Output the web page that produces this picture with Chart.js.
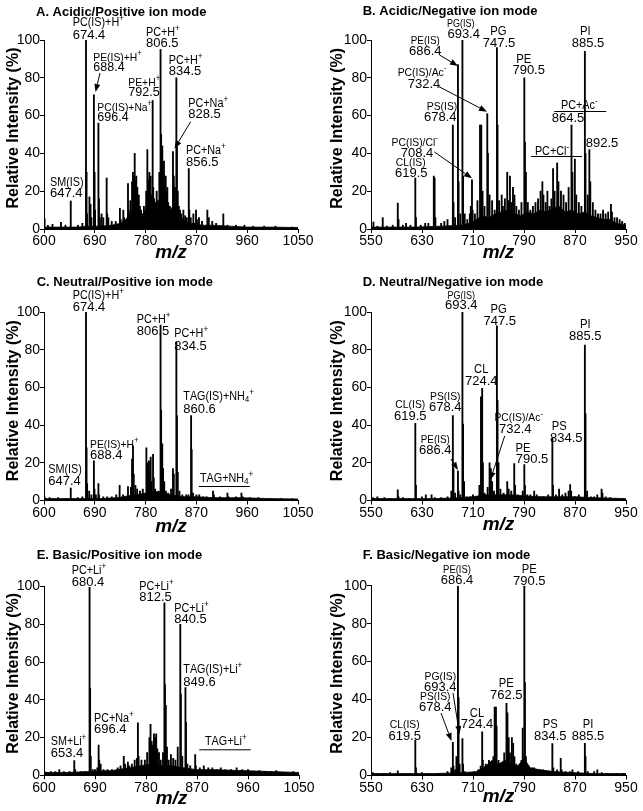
<!DOCTYPE html>
<html>
<head>
<meta charset="utf-8">
<script src="https://cdn.jsdelivr.net/npm/chart.js@4.4.1/dist/chart.umd.min.js"></script>
<style>
  body { margin: 0; background: #fff; }
  #fig { position: relative; width: 643px; height: 811px; }
  .panel { position: absolute; }
  canvas { display: block; }
</style>
</head>
<body>
<div id="fig">
  <div class="panel" style="left:0;top:0"><canvas id="cA" width="322" height="270"></canvas></div>
  <div class="panel" style="left:322px;top:0"><canvas id="cB" width="321" height="270"></canvas></div>
  <div class="panel" style="left:0;top:270px"><canvas id="cC" width="322" height="270"></canvas></div>
  <div class="panel" style="left:322px;top:270px"><canvas id="cD" width="321" height="270"></canvas></div>
  <div class="panel" style="left:0;top:540px"><canvas id="cE" width="322" height="271"></canvas></div>
  <div class="panel" style="left:322px;top:540px"><canvas id="cF" width="321" height="271"></canvas></div>
</div>
<script>
const FAM = '"Liberation Sans", Arial, Helvetica, sans-serif';

// axis ticks
const xTicksPos = [600, 690, 780, 870, 960, 1050];
const xTicksNeg = [550, 630, 710, 790, 870, 950];
const yTicks = [0, 20, 40, 60, 80, 100];

// A. acidic / positive
const mzA = [601, 607, 615, 630, 638, 647.4, 660, 668, 674.4, 675.4, 676.4, 680.5, 682.5, 684, 688.4, 689.6, 690.5, 696.4, 697.4, 699, 702, 705, 711, 712, 714, 720, 727, 734.5, 736, 740.5, 742, 748.8, 750, 753, 756, 757.5, 759, 760.7, 762, 763.5, 765.4, 768, 770, 772, 775, 777, 781, 783.1, 785, 786.6, 789, 790.5, 792.5, 793.5, 795, 797, 799.6, 802, 804.3, 806.5, 807.5, 809.6, 811, 812.6, 814, 815.6, 817, 818.5, 820, 823, 826, 828.5, 830, 832, 834.5, 835.5, 837, 839, 841, 843, 846.9, 850, 853, 856.5, 857.5, 860, 864.6, 869.3, 871, 874.6, 880, 889.4, 892, 898, 905, 917.7, 925, 940, 955, 970, 990, 1010, 1040];
const intA = [5.5, 2, 2.5, 3.5, 2, 14.8, 2, 3, 100, 30, 8, 17, 13, 6, 71, 30, 10, 56, 16, 6, 8, 6, 27, 8, 6, 4, 4, 11, 5, 10, 6, 24, 10, 15, 25, 30, 28, 40, 26, 28, 22, 18, 12, 10, 8, 12, 20, 42, 26, 30, 28, 18, 68, 22, 16, 14, 20, 15, 30, 95, 50, 44, 30, 36, 25, 28, 20, 22, 14, 12, 10, 41, 28, 22, 80, 44, 20, 12, 10, 8, 10, 7, 6, 32, 10, 6, 8, 10, 5, 6, 4, 10, 6, 4, 3, 8, 2, 2, 2, 1.5, 1.5, 1.5, 1];
const noiseMzA = [600, 620, 640, 660, 680, 700, 720, 735, 745, 752, 760, 766, 772, 778, 784, 790, 796, 802, 808, 814, 820, 826, 832, 838, 844, 850, 858, 866, 880, 900, 930, 960, 1000, 1050];
const noiseIntA = [1, 1, 1, 1, 1.5, 1.5, 2, 3, 5, 8, 12, 10, 7, 9, 14, 12, 9, 11, 20, 14, 9, 11, 14, 9, 6, 4, 3, 3, 2, 2, 1.5, 1, 1, 0.8];

// B. acidic / negative
const mzB = [553.8, 560, 568.4, 575, 584, 592, 593.2, 600, 605, 612, 619.5, 620.5, 628, 635, 640, 648.5, 649.8, 651, 660, 665, 670, 678.4, 679.4, 682, 686.4, 687.4, 690, 693.4, 694.4, 697, 701, 705, 706.5, 708.4, 709.4, 713, 717, 721, 723, 725, 728, 732.4, 733.4, 736, 740, 744, 747.5, 748.5, 751, 755, 757, 760, 763.7, 765, 768, 770, 772.7, 775, 778, 782, 786, 790.5, 791.5, 793, 796, 800, 804, 808, 812, 816, 818.8, 820.5, 824, 826.7, 830, 833, 835.6, 838, 842, 844, 848, 852, 856, 860, 864.5, 866, 869.8, 872, 876, 880, 885.5, 886.5, 890, 892.5, 894, 898, 902, 906, 910, 914, 918, 922, 926.4, 928, 932, 936, 940, 944, 948];
const intB = [3.7, 1.5, 6, 1.5, 2, 13.7, 5, 2, 3, 2, 27, 6, 2, 3, 3, 28, 27, 6, 3, 4, 5, 55, 14, 6, 87, 25, 8, 100, 28, 8, 5, 8, 12, 26, 10, 8, 15, 55, 55, 20, 12, 61, 40, 18, 15, 10, 96, 55, 15, 18, 12, 16, 30, 15, 28, 14, 22, 18, 12, 10, 14, 80, 46, 30, 14, 10, 12, 14, 16, 20, 25, 18, 14, 20, 12, 16, 32, 20, 35, 25, 20, 18, 14, 22, 55, 30, 37, 18, 14, 12, 94, 40, 18, 42, 25, 14, 10, 8, 8, 10, 8, 9, 13, 9, 6, 6, 5, 4, 3];
const noiseMzB = [550, 580, 620, 660, 690, 705, 715, 725, 735, 745, 755, 765, 775, 785, 795, 805, 815, 825, 835, 845, 855, 865, 875, 885, 895, 905, 915, 925, 935, 950];
const noiseIntB = [1, 1, 1, 1.5, 2, 3, 5, 7, 6, 8, 9, 10, 8, 7, 9, 8, 10, 9, 11, 12, 9, 10, 8, 9, 7, 6, 5, 5, 3, 2];

// C. neutral / positive
const mzC = [601, 610, 625, 640, 647.4, 660, 668, 674.4, 675.4, 676.4, 680, 684, 688.4, 689.4, 692, 696.4, 697.4, 705, 712, 720, 728, 734, 740, 748.8, 754, 756, 757.7, 759, 762, 765, 770, 775, 781.4, 782.5, 784, 786, 787.5, 789, 790, 793.2, 794.5, 797, 800, 803, 806.5, 807.5, 809.5, 811, 813, 816, 820, 825, 828.5, 830, 834.5, 835.5, 837, 840, 845, 852, 856, 860.6, 861.6, 864, 870, 875, 882, 888, 899.4, 901, 912, 925, 927, 940, 949.8, 952, 965, 980, 1000, 1020, 1040];
const intC = [2, 1.5, 1.5, 1, 6.6, 1.5, 2, 100, 28, 9, 5, 3, 21, 6, 3, 9, 3, 2, 2, 2, 3, 8, 3, 7.4, 7, 22, 29, 14, 8, 6, 5, 6, 28, 15, 20, 21, 14, 23, 10, 24.5, 12, 6, 4, 5, 93, 48, 30, 17, 10, 5, 4, 6, 17, 14, 84, 45, 15, 5, 3, 3, 3, 45, 27, 4, 3, 3, 2, 2, 5, 3, 2, 4, 2, 2, 4, 2, 1.5, 1.5, 1, 1, 1];
const noiseMzC = [600, 650, 700, 730, 750, 765, 780, 795, 810, 825, 845, 870, 900, 950, 1000, 1050];
const noiseIntC = [1, 1, 1, 1.5, 2.5, 3, 4, 5, 4, 3, 2, 2, 1.5, 1.5, 1, 0.8];

// D. neutral / negative
const mzD = [553, 560, 571, 580, 592, 593.2, 600, 610, 619.5, 620.5, 630, 636, 645, 650, 660, 670, 676, 678.4, 679.4, 682, 686.4, 687.4, 690, 693.4, 694.4, 696, 700, 706, 710, 715, 720, 722.5, 724.4, 725.5, 728, 733, 736, 738, 740, 743, 747.5, 748.5, 750, 753, 758, 763.7, 766, 770, 774.7, 776, 780, 785, 788, 790.5, 791.5, 795, 800, 806, 810, 815, 820, 828, 834.5, 835.5, 840, 845, 850, 855, 860, 862.4, 864, 870, 876, 885.5, 886.5, 889, 895, 900, 905, 911.7, 913, 918, 925, 935, 945];
const intD = [1.5, 2, 1.5, 1, 5.7, 2, 1.5, 1, 41, 8, 2, 3, 3, 1.5, 1.5, 2, 5, 45, 17, 4, 15.6, 5, 3, 100, 40.5, 10, 2, 2, 3, 2, 8, 55, 59.5, 20, 4, 7, 20, 17, 10, 5, 92.7, 53, 20, 6, 4, 10, 6, 5, 19.6, 8, 3, 2, 5, 19, 8, 3, 3, 5, 3, 2, 2, 3, 33, 8, 3, 6, 3, 4, 5, 8.5, 5, 2, 3, 82.5, 46, 5, 2, 2, 3, 6, 4, 2, 1.5, 1, 1];
const noiseMzD = [550, 600, 650, 690, 710, 730, 750, 770, 790, 810, 830, 850, 870, 900, 950];
const noiseIntD = [1, 1, 1, 1.5, 2, 3, 3, 3, 2.5, 2, 2, 2, 2, 1.5, 1];

// E. basic / positive
const mzE = [601, 605, 612, 620, 627, 635, 645, 653.4, 655, 665, 672, 680.4, 681.4, 682.5, 686, 690, 694, 696.4, 697.4, 700, 705, 712, 720, 730, 735, 740.8, 743, 748, 750, 755, 760, 764, 765.7, 767, 772, 778, 782, 786, 788, 790, 792, 794, 796, 798, 800, 803, 806, 810, 812.5, 813.5, 815, 817, 820, 824, 828, 832, 836, 840.5, 841.5, 844, 849.6, 850.6, 853, 858, 866.8, 868, 875, 882, 890, 897, 905, 912, 920, 930, 940, 950, 960, 970, 980, 990, 1000, 1010, 1020, 1030, 1040];
const intE = [2, 1.5, 2, 2, 3, 2, 2, 7.8, 3, 2, 2, 99.5, 46, 10, 3, 3, 4, 16, 8, 6, 3, 3, 3, 4, 5, 10, 6, 7, 5, 6, 8, 9, 27.8, 10, 8, 8, 12, 20, 27, 18, 16, 22, 20, 22, 14, 12, 8, 12, 91.4, 48, 37, 15, 8, 11, 9, 8, 15, 80, 43, 10, 46.5, 28, 6, 5, 11, 5, 4, 5, 4, 4, 3, 4, 3, 3, 4, 3, 3, 2, 2.5, 2, 2, 2.5, 1.5, 1.5, 2];
const noiseMzE = [600, 640, 680, 720, 750, 770, 790, 805, 825, 845, 870, 900, 950, 1000, 1050];
const noiseIntE = [1.5, 1.5, 2, 2.5, 4, 5, 6, 5, 5, 4, 3, 3, 2.5, 2, 1.5];

// F. basic / negative
const mzF = [553, 560, 570, 580, 592, 600, 610, 619.5, 620.5, 630, 640, 660, 670, 676, 678.4, 679.4, 682, 684, 686.4, 687.4, 689, 693.4, 694.4, 697, 705, 712, 718, 722, 724.4, 725.4, 730, 735, 738, 742, 744, 746, 747, 750, 755, 759, 762.5, 764, 766, 768, 771, 773, 775, 778, 782, 786, 788, 790.5, 791.5, 793, 797, 803, 806, 810, 815, 820, 825, 834.5, 836, 842, 847.6, 849, 855, 862, 866, 875, 885.5, 886.5, 890, 900, 905, 912, 920, 935, 945];
const intF = [1.5, 1, 1, 1.5, 2.5, 1, 1, 18.5, 4, 1.5, 1, 1, 2, 4, 17.5, 5, 3, 10, 99.7, 41, 6, 19.5, 6, 2, 1.5, 2, 3, 5, 23, 8, 6, 8, 5, 10, 36, 36, 26, 8, 6, 12, 38, 33, 20, 12, 20, 17, 10, 6, 4, 8, 25, 100, 49, 10, 4, 4, 4, 3, 3, 3, 2, 16.8, 4, 3, 9, 3, 2, 2, 3, 2, 17, 10, 2, 2, 3, 1.5, 1, 1, 1];
const noiseMzF = [550, 600, 650, 690, 715, 730, 740, 750, 760, 770, 780, 790, 800, 815, 840, 870, 900, 950];
const noiseIntF = [1, 1, 1, 1.5, 2, 5, 8, 6, 8, 6, 5, 9, 4, 3, 2, 1.5, 1, 1];

// annotation text: [text, x, y, size]  (^ = superscript, _ = subscript)
const labelsA = [
  ['PC(IS)+H^+', 72.7, 22.8, 12], ['674.4', 72.7, 35, 13],
  ['PE(IS)+H^+', 93.3, 58, 11.5], ['688.4', 93.3, 68, 12.5],
  ['PC(IS)+Na^+', 97.3, 107.7, 11.5], ['696.4', 97.3, 118, 12.5],
  ['PE+H^+', 128.3, 82.7, 11.5], ['792.5', 128.3, 92.5, 12.5],
  ['PC+H^+', 146, 32.3, 12], ['806.5', 146, 43, 13],
  ['PC+H^+', 168.7, 60.7, 12], ['834.5', 168.7, 71.5, 13],
  ['PC+Na^+', 188.3, 103.3, 12], ['828.5', 188.3, 114.5, 13],
  ['PC+Na^+', 186, 150.7, 12], ['856.5', 186, 162, 13],
  ['SM(IS)', 50, 182.7, 12], ['647.4', 50, 193.5, 13]
];
const labelsB = [
  ['PE(IS)', 103.3, 40.7, 11], ['686.4', 103.3, 51, 13],
  ['PG(IS)', 138.7, 24, 10], ['693.4', 141.7, 34.5, 13],
  ['PG', 176.3, 31.7, 12.5], ['747.5', 177, 43, 13],
  ['PE', 201.7, 60, 12.5], ['790.5', 206.7, 70.5, 13],
  ['PI', 263.3, 31.7, 12.5], ['885.5', 266, 43, 13],
  ['PC(IS)/Ac^-', 100, 72.7, 11.5], ['732.4', 102, 84, 13],
  ['PS(IS)', 120, 107.3, 11.5], ['678.4', 118.3, 117.5, 13],
  ['PC(IS)/Cl^-', 92.7, 142.7, 11.5], ['708.4', 95, 153, 13],
  ['CL(IS)', 88.7, 162.7, 11.5], ['619.5', 89.3, 173, 13],
  ['PC+Cl^-', 230, 151.5, 12], ['PC+Ac^-', 257.3, 106, 12],
  ['864.5', 246, 118.5, 13], ['892.5', 280, 143.5, 13]
];
const labelsC = [
  ['PC(IS)+H^+', 72.7, 26, 12], ['674.4', 72.7, 37, 13],
  ['PC+H^+', 136.7, 49.3, 12], ['806.5', 136.7, 61, 13],
  ['PC+H^+', 174.3, 64, 12], ['834.5', 174.3, 76, 13],
  ['TAG(IS)+NH_4^+', 183.3, 126.7, 12], ['860.6', 183.3, 139.5, 13],
  ['PE(IS)+H^+', 90, 175, 11.5], ['688.4', 90, 185.5, 13],
  ['SM(IS)', 48.3, 200, 12], ['647.4', 48.3, 211, 13],
  ['TAG+NH_4^+', 200, 208.5, 12]
];
const labelsD = [
  ['PG(IS)', 139.3, 26, 10], ['693.4', 139.3, 35.5, 13],
  ['PG', 176.7, 40, 12.5], ['747.5', 177.7, 51, 13],
  ['PI', 263.3, 54.3, 12.5], ['885.5', 263.3, 66, 13],
  ['CL', 159.3, 100, 12.5], ['724.4', 159.3, 111, 13],
  ['CL(IS)', 88.3, 135, 11.5], ['619.5', 88.3, 146, 13],
  ['PS(IS)', 123.3, 127.3, 11.5], ['678.4', 123.3, 137.5, 13],
  ['PE(IS)', 113.3, 170, 11], ['686.4', 113.3, 180.5, 13],
  ['PC(IS)/Ac^-', 196.7, 148.3, 11.5], ['732.4', 193.3, 159.5, 13],
  ['PE', 201, 178.3, 12.5], ['790.5', 210, 189.5, 13],
  ['PS', 237.3, 156.7, 12.5], ['834.5', 244.3, 168.5, 13]
];
const labelsE = [
  ['PC+Li^+', 71.7, 30.7, 12], ['680.4', 71.7, 42, 13],
  ['PC+Li^+', 139.3, 46.7, 12], ['812.5', 139.3, 57.5, 13],
  ['PC+Li^+', 174.3, 68.3, 12], ['840.5', 174.3, 79.5, 13],
  ['TAG(IS)+Li^+', 183.3, 130, 12], ['849.6', 183.3, 142, 13],
  ['PC+Na^+', 94, 178.3, 12], ['696.4', 94, 189.5, 13],
  ['SM+Li^+', 50.7, 201.7, 12], ['653.4', 50.7, 213.5, 13],
  ['TAG+Li^+', 205, 201.3, 12]
];
const labelsF = [
  ['PE(IS)', 135, 30, 10.5], ['686.4', 135, 40.5, 13],
  ['PE', 207.3, 30, 12.5], ['790.5', 207.3, 41, 13],
  ['PG(IS)', 118.3, 136.7, 11.5], ['693.4', 118.3, 147, 13],
  ['PS(IS)', 113.3, 156.7, 11.5], ['678.4', 113.3, 167, 13],
  ['CL', 155, 173.3, 12.5], ['724.4', 155, 184.5, 13],
  ['PE', 184.3, 144, 12.5], ['762.5', 184.3, 155.5, 13],
  ['CL(IS)', 82.7, 185, 11.5], ['619.5', 82.7, 196, 13],
  ['PS', 228.3, 185, 12.5], ['834.5', 228.3, 196, 13],
  ['PI', 266, 185, 12.5], ['885.5', 266, 196, 13]
];

// arrows [x1, y1, x2(tip), y2(tip)] and underline bars [x1, y, x2]
const panels = [
  { id: 'cA', title: 'A. Acidic/Positive ion mode', tx: 36, ty: 12, mz: mzA, inten: intA, nMz: noiseMzA, nInt: noiseIntA,
    ticks: xTicksPos, area: [44, 40, 298, 229], yt: [13.5, 128], xt: 253, align: 'left', labels: labelsA,
    arrows: [[100, 73, 95.5, 92], [190.7, 121.7, 174.5, 148.5]], bars: [] },
  { id: 'cB', title: 'B. Acidic/Negative ion mode', tx: 40.7, ty: 11.7, mz: mzB, inten: intB, nMz: noiseMzB, nInt: noiseIntB,
    ticks: xTicksNeg, area: [49, 40, 304, 229], yt: [15.5, 128.3], xt: 253, align: 'center', labels: labelsB,
    arrows: [[117.5, 55, 136, 66], [117, 86.7, 165, 111.7], [112.5, 152, 150, 178.3]],
    bars: [[209, 156, 260], [232.3, 111, 284.3]] },
  { id: 'cC', title: 'C. Neutral/Positive ion mode', tx: 36.7, ty: 12.7, mz: mzC, inten: intC, nMz: noiseMzC, nInt: noiseIntC,
    ticks: xTicksPos, area: [44, 42, 298, 230.5], yt: [13.5, 130.7], xt: 256.5, align: 'left', labels: labelsC,
    arrows: [], bars: [[198.7, 216, 250]] },
  { id: 'cD', title: 'D. Neutral/Negative ion mode', tx: 40.7, ty: 12.7, mz: mzD, inten: intD, nMz: noiseMzD, nInt: noiseIntD,
    ticks: xTicksNeg, area: [49, 42, 304, 230.5], yt: [15.5, 130.7], xt: 255, align: 'center', labels: labelsD,
    arrows: [[129, 189, 136, 200], [182.7, 166, 168.3, 210]], bars: [] },
  { id: 'cE', title: 'E. Basic/Positive ion mode', tx: 36.7, ty: 15, mz: mzE, inten: intE, nMz: noiseMzE, nInt: noiseIntE,
    ticks: xTicksPos, area: [44, 46.5, 299, 235.3], yt: [13.5, 133.3], xt: 259, align: 'left', labels: labelsE,
    arrows: [], bars: [[199.3, 209.3, 250.7]] },
  { id: 'cF', title: 'F. Basic/Negative ion mode', tx: 40.7, ty: 15, mz: mzF, inten: intF, nMz: noiseMzF, nInt: noiseIntF,
    ticks: xTicksNeg, area: [49, 45.7, 304, 235.5], yt: [15.5, 133.3], xt: 257, align: 'center', labels: labelsF,
    arrows: [[119, 173, 129.5, 201], [131, 153, 137.5, 194]], bars: [] }
];

function drawRich(ctx, str, x, y, size, align) {
  const segs = [];
  for (let i = 0; i < str.length; i++) {
    const c = str[i];
    if ((c === '^' || c === '_') && i + 1 < str.length) { segs.push([str[i + 1], c]); i++; }
    else segs.push([c, '']);
  }
  const sx = /[A-Za-z]/.test(str) ? 0.9 : 1;
  const fontFor = k => (k ? (size * 0.75).toFixed(1) : size) + 'px ' + FAM;
  let w = 0;
  segs.forEach(s => { ctx.font = fontFor(s[1]); s.push(ctx.measureText(s[0]).width); w += s[2]; });
  ctx.save();
  ctx.translate(x, y);
  ctx.scale(sx, 1);
  let cx = align === 'center' ? -w / 2 : 0;
  ctx.textBaseline = 'middle';
  ctx.textAlign = 'left';
  ctx.fillStyle = '#000';
  segs.forEach(s => {
    ctx.font = fontFor(s[1]);
    const dy = s[1] === '^' ? -size * 0.34 : s[1] === '_' ? size * 0.24 : 0;
    ctx.fillText(s[0], cx, dy);
    cx += s[2];
  });
  ctx.restore();
}

function arrow(ctx, x1, y1, x2, y2) {
  const a = Math.atan2(y2 - y1, x2 - x1);
  const len = 8, hw = 3;
  ctx.beginPath();
  ctx.moveTo(x1, y1);
  ctx.lineTo(x2 - len * Math.cos(a), y2 - len * Math.sin(a));
  ctx.stroke();
  ctx.beginPath();
  ctx.moveTo(x2, y2);
  ctx.lineTo(x2 - len * Math.cos(a) + hw * Math.sin(a), y2 - len * Math.sin(a) - hw * Math.cos(a));
  ctx.lineTo(x2 - len * Math.cos(a) - hw * Math.sin(a), y2 - len * Math.sin(a) + hw * Math.cos(a));
  ctx.closePath();
  ctx.fill();
}

const annotate = p => ({
  id: 'annotate',
  afterDraw(chart) {
    const ctx = chart.ctx;
    const ca = chart.chartArea;
    ctx.save();
    ctx.fillStyle = '#000';
    ctx.strokeStyle = '#000';
    ctx.lineWidth = 1;
    // panel title
    ctx.font = 'bold 13px ' + FAM;
    ctx.textAlign = 'left';
    ctx.textBaseline = 'middle';
    ctx.fillText(p.title, p.tx, p.ty);
    // axis titles
    ctx.save();
    ctx.translate(p.yt[0], p.yt[1]);
    ctx.rotate(-Math.PI / 2);
    ctx.textAlign = 'center';
    ctx.font = 'bold 16px ' + FAM;
    ctx.fillText('Relative Intensity (%)', 0, 0);
    ctx.restore();
    ctx.textAlign = 'center';
    ctx.font = 'italic bold 19px ' + FAM;
    ctx.fillText('m/z', (ca.left + ca.right) / 2, p.xt);
    // peak labels
    p.labels.forEach(l => drawRich(ctx, l[0], l[1], l[2], l[3], p.align));
    p.arrows.forEach(a => arrow(ctx, a[0], a[1], a[2], a[3]));
    p.bars.forEach(b => {
      ctx.beginPath();
      ctx.moveTo(b[0], b[1] + 0.5);
      ctx.lineTo(b[2], b[1] + 0.5);
      ctx.stroke();
    });
    ctx.restore();
  }
});

function makeChart(p) {
  const cv = document.getElementById(p.id);
  const W = cv.width, H = cv.height;
  const [L, T, R, B] = p.area;
  const tk = p.ticks;
  new Chart(cv, {
    type: 'bar',
    data: {
      datasets: [
        {
          type: 'bar',
          data: p.mz.map((x, i) => ({ x: x, y: p.inten[i] })),
          backgroundColor: '#000',
          barThickness: 1.2,
          grouped: false,
          order: 1
        },
        {
          type: 'line',
          data: p.nMz.map((x, i) => ({ x: x, y: p.nInt[i] })),
          borderColor: '#000',
          borderWidth: 0.8,
          backgroundColor: '#000',
          fill: 'origin',
          pointRadius: 0,
          tension: 0,
          order: 2
        }
      ]
    },
    options: {
      responsive: false,
      animation: false,
      events: [],
      layout: { padding: { left: 0, top: T, right: W - R, bottom: 0 } },
      plugins: { legend: { display: false }, tooltip: { enabled: false } },
      scales: {
        x: {
          type: 'linear',
          min: tk[0],
          max: tk[tk.length - 1],
          offset: false,
          ticks: { stepSize: tk[1] - tk[0], autoSkip: false, maxRotation: 0, color: '#000', padding: 0,
                   font: { size: 14, family: FAM }, callback: v => String(v) },
          grid: { display: true, drawOnChartArea: false, drawTicks: true, tickLength: 4, color: '#000', offset: false },
          border: { display: true, color: '#000', width: 1 },
          afterFit: s => { s.height = H - B; }
        },
        y: {
          min: yTicks[0],
          max: yTicks[yTicks.length - 1],
          ticks: { stepSize: yTicks[1] - yTicks[0], color: '#000', padding: 0, font: { size: 14, family: FAM } },
          grid: { display: true, drawOnChartArea: false, drawTicks: true, tickLength: 4, color: '#000' },
          border: { display: true, color: '#000', width: 1 },
          afterFit: s => { s.width = L; }
        }
      }
    },
    plugins: [annotate(p)]
  });
}

panels.forEach(makeChart);
</script>
</body>
</html>
